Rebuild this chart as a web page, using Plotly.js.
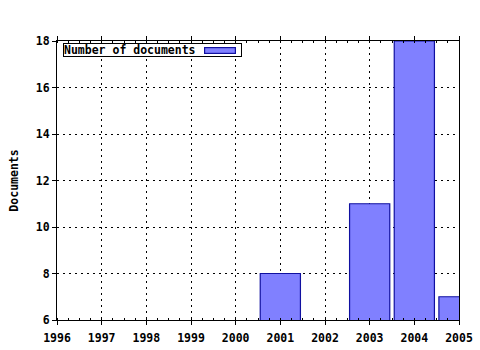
<!DOCTYPE html>
<html>
<head>
<meta charset="utf-8">
<script src="https://cdn.plot.ly/plotly-3.0.1.min.js"></script>
<style>html,body{margin:0;padding:0;background:#fff;}#chart{width:480px;height:350px;}</style>
</head>
<body>
<div id="chart"></div>
<script>
const years = [2001, 2003, 2004, 2005];
const documents = [8, 11, 18, 7];
const tickYears = [1996, 1997, 1998, 1999, 2000, 2001, 2002, 2003, 2004, 2005];
const seriesName = 'Number of documents';
const yTitle = 'Documents';

const font = {family: 'DejaVu Sans Mono', size: 11.5, color: '#000', weight: 'bold'};
const barFill = '#8080ff';
const barLine = '#1010a0';

const trace = {
  type: 'bar',
  x: years,
  y: documents,
  name: seriesName,
  width: 0.9,
  marker: {color: barFill, line: {color: barLine, width: 1.2}},
  showlegend: false
};

const layout = {
  width: 480, height: 350,
  margin: {l: 57, r: 21, t: 41, b: 30, pad: 0},
  paper_bgcolor: '#fff', plot_bgcolor: '#fff',
  font: font,
  xaxis: {
    type: 'linear', range: [1996, 2005],
    tickvals: tickYears, ticktext: tickYears.map(String),
    showline: true, linecolor: '#000', linewidth: 1, mirror: 'ticks',
    ticks: 'outside', ticklen: 4, tickcolor: '#000', ticklabelstandoff: 3,
    showgrid: true, gridcolor: '#000', griddash: '2px,4px', gridwidth: 1,
    zeroline: false, tickfont: font,
    minor: {dtick: 0.25, ticks: 'inside', ticklen: 2, tickcolor: '#000', showgrid: false}
  },
  yaxis: {
    range: [6, 18], dtick: 2,
    showline: true, linecolor: '#000', linewidth: 1, mirror: true,
    ticks: 'outside', ticklen: 4, tickcolor: '#000',
    showgrid: true, gridcolor: '#000', griddash: '2px,4px', gridwidth: 1,
    zeroline: false, tickfont: font,
    title: {text: yTitle, font: font, standoff: 14}
  },
  showlegend: false,
  annotations: [
    {
      xref: 'paper', yref: 'paper', x: 0.0149, y: 0.9928,
      xanchor: 'left', yanchor: 'top',
      text: seriesName, showarrow: false, font: font,
      align: 'left', width: 177, height: 12,
      bgcolor: '#fff', bordercolor: '#000', borderwidth: 1, borderpad: 0
    },
    {
      xref: 'paper', yref: 'paper', x: 0.4055, y: 0.966,
      xanchor: 'center', yanchor: 'middle',
      text: ' ', showarrow: false, font: {size: 4},
      width: 30, height: 5,
      bgcolor: barFill, bordercolor: barLine, borderwidth: 1.2, borderpad: 0
    }
  ]
};

Plotly.newPlot('chart', [trace], layout, {displayModeBar: false, staticPlot: true});
</script>
</body>
</html>
